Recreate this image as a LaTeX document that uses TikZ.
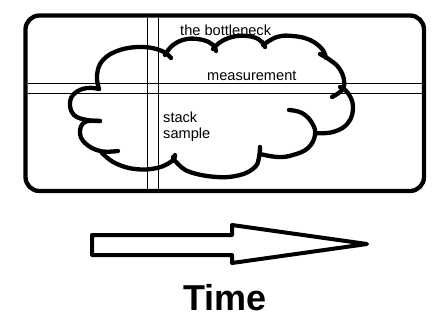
\documentclass[tikz,border=0pt]{standalone}
\usepackage{fontspec}
\setmainfont{Liberation Sans}
\begin{document}
\begin{tikzpicture}[x=1pt,y=-1pt,
  frame/.style={line width=4.3pt,rounded corners=14pt},
  thin/.style={line width=1pt},
  bump/.style={line width=4.3pt,line cap=round,line join=round},
  lbl/.style={inner sep=0pt,font=\fontsize{14.6}{16}\selectfont},
  arrowshape/.style={line width=4pt,line join=round,fill=white}]
\useasboundingbox[fill=white] (0,0) rectangle (447,330);
% frame
\draw[frame] (25.5,15.5) rectangle (424,191);
% crosshair lines
\draw[thin] (147,17.5) -- (147,189);
\draw[thin] (158,17.5) -- (158,189);
\draw[thin] (27.5,83) -- (422,83);
\draw[thin] (27.5,93) -- (422,93);
% cloud bumps
\draw[bump] plot[smooth,tension=0.7] coordinates {(99,89) (97,75) (103,60) (120,50) (143,47) (162,51) (171,58)};
\draw[bump] plot[smooth,tension=0.7] coordinates {(165,55) (173,45) (187,39) (203,40) (213,45) (216,51)};
\draw[bump] plot[smooth,tension=0.7] coordinates {(213,49) (222,41) (237,36) (253,37) (262,42) (265,47)};
\draw[bump] plot[smooth,tension=0.7] coordinates {(263,45) (277,37) (293,36) (310,40) (322,49) (326,58)};
\draw[bump] plot[smooth,tension=0.7] coordinates {(320,54) (330,60) (339,68) (344,80) (342,90) (332,97)};
\draw[bump] plot[smooth,tension=0.7] coordinates {(340,87) (348,93) (353,107) (348,123) (333,132) (315,133)};
\draw[bump] plot[smooth,tension=0.7] coordinates {(289,110) (302,113) (312,123) (315,135) (308,148) (293,155) (278,157) (260,154)};
\draw[bump] plot[smooth,tension=0.7] coordinates {(260,147) (259,157) (255,167) (240,175) (217,177) (190,172) (177,163) (173,157)};
\draw[bump] plot[smooth,tension=0.7] coordinates {(175,155) (172,161) (157,168) (135,169) (115,163) (102,153)};
\draw[bump] plot[smooth,tension=0.7] coordinates {(100,121) (85,122) (80,132) (85,143) (100,151) (118,151)};
\draw[bump] plot[smooth,tension=0.7] coordinates {(99,89) (87,88) (75,93) (70,103) (74,115) (87,120) (100,121)};
% labels
\node[lbl,anchor=base west] (bottleneck) at (180,35) {the bottleneck};
\node[lbl,anchor=base west] (measurement) at (207,80) {measurement};
\node[lbl,anchor=base west] (stack) at (163,122) {stack};
\node[lbl,anchor=base west] (sample) at (163,138) {sample};
% time arrow
\draw[arrowshape] (92,235) -- (232,235) -- (232,225) -- (367,244) -- (232,263) -- (232,255) -- (92,255) -- cycle;
\node[inner sep=0pt,anchor=base,font=\fontsize{36}{40}\selectfont\bfseries] (time) at (225,310) {Time};
\end{tikzpicture}
\end{document}
